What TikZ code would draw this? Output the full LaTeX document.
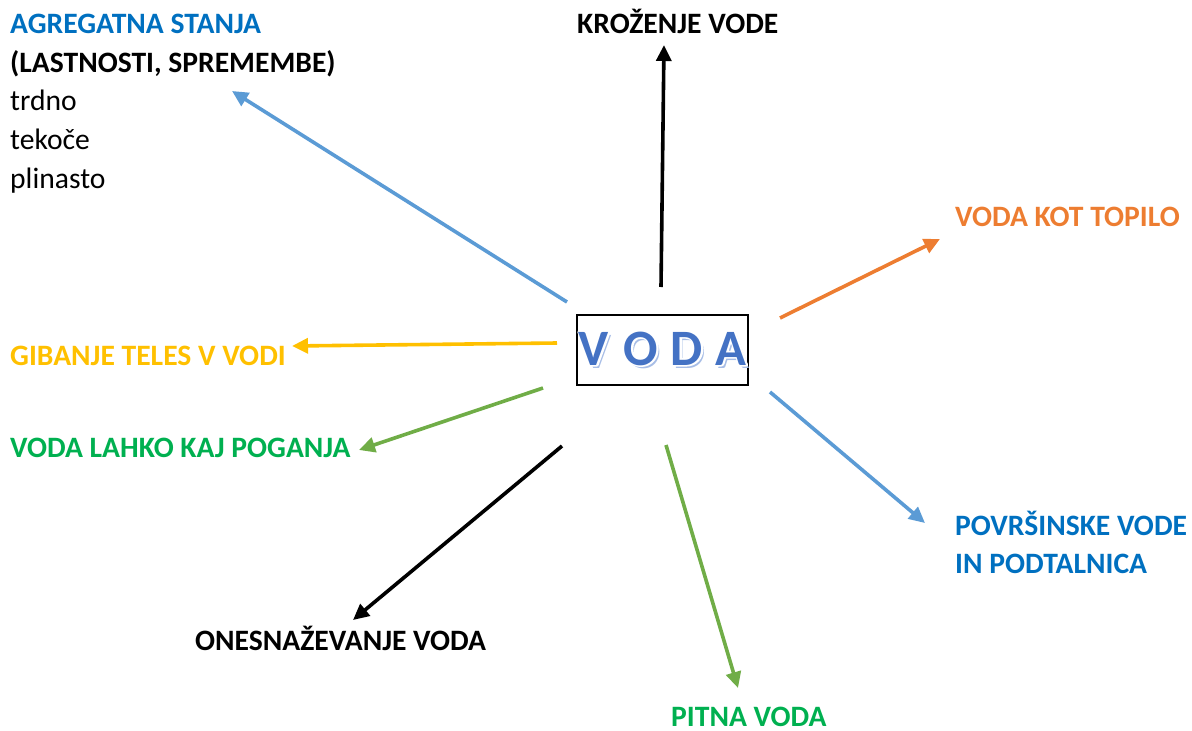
\documentclass[tikz,border=0pt]{standalone}
\usepackage{fontspec}
\setmainfont{Carlito}
\usetikzlibrary{arrows.meta}
\definecolor{tblue}{HTML}{0070C0}
\definecolor{torange}{HTML}{ED7D31}
\definecolor{tgold}{HTML}{FFC000}
\definecolor{tgreen}{HTML}{00B050}
\definecolor{ablue}{HTML}{5B9BD5}
\definecolor{agreen}{HTML}{70AD47}
\definecolor{vblue}{HTML}{4472C4}
\definecolor{vshadow}{HTML}{A7BDE6}
\newcommand{\vodaletter}[1]{%
  \rlap{\kern3pt\raisebox{-3pt}{\textcolor{vshadow}{#1}}}%
  \rlap{\textcolor{white}{\special{pdf:code q 2 Tr 3.2 w 1 j}#1\special{pdf:code Q}}}%
  #1}
\begin{document}
\begin{tikzpicture}[x=1pt,y=-1pt,
  lbl/.style={anchor=base west, inner sep=0pt, font=\fontsize{29.6}{34}\selectfont\bfseries},
  plain/.style={anchor=base west, inner sep=0pt, font=\fontsize{29.6}{34}\selectfont},
  arr/.style={line width=3.6pt, -{Triangle[length=16pt,width=15pt]}},
  vl/.style={anchor=base, inner sep=0pt, text=vblue, font=\fontsize{51}{51}\selectfont\bfseries}]
\useasboundingbox (0,0) rectangle (1192,731);

% labels
\node[lbl, text=tblue] (agr) at (10,33) {AGREGATNA STANJA};
\node[lbl] (last) at (10,72) {(LASTNOSTI, SPREMEMBE)};
\node[plain] (trdno) at (10,110) {trdno};
\node[plain] (tekoce) at (10,149) {tekoče};
\node[plain] (plin) at (10,188) {plinasto};
\node[lbl] (kroz) at (577,33) {KROŽENJE VODE};
\node[lbl, text=torange] (topilo) at (955,226) {VODA KOT TOPILO};
\node[lbl, text=tgold] (gib) at (10,365) {GIBANJE TELES V VODI};
\node[lbl, text=tgreen] (pog) at (10,457) {VODA LAHKO KAJ POGANJA};
\node[lbl, text=tblue] (pov) at (955,535) {POVRŠINSKE VODE};
\node[lbl, text=tblue] (podt) at (955,573) {IN PODTALNICA};
\node[lbl] (ones) at (195,650) {ONESNAŽEVANJE VODA};
\node[lbl, text=tgreen] (pitna) at (671,726) {PITNA VODA};

% central box
\node[draw, line width=2.2pt, minimum width=171pt, minimum height=70pt, inner sep=0pt] (voda) at (662.5,350) {};
\node[vl] (v1) at (594,365) {\vodaletter{V}};
\node[vl] (v2) at (641,365) {\vodaletter{O}};
\node[vl] (v3) at (687,365) {\vodaletter{D}};
\node[vl] (v4) at (731,365) {\vodaletter{A}};

% connector endpoints
\coordinate (s1) at (567,302); \coordinate (e1) at (232,91);
\coordinate (s2) at (661,287); \coordinate (e2) at (664,45);
\coordinate (s3) at (780,318); \coordinate (e3) at (940,239);
\coordinate (s4) at (557,343); \coordinate (e4) at (292,346);
\coordinate (s5) at (543,388); \coordinate (e5) at (359,450);
\coordinate (s6) at (562,446); \coordinate (e6) at (353,620);
\coordinate (s7) at (666,445); \coordinate (e7) at (738,688);
\coordinate (s8) at (770,392); \coordinate (e8) at (925,523);

\draw[arr, ablue] (s1) -- (e1);
\draw[arr, black] (s2) -- (e2);
\draw[arr, torange] (s3) -- (e3);
\draw[arr, tgold] (s4) -- (e4);
\draw[arr, agreen] (s5) -- (e5);
\draw[arr, black] (s6) -- (e6);
\draw[arr, agreen] (s7) -- (e7);
\draw[arr, ablue] (s8) -- (e8);
\end{tikzpicture}
\end{document}
